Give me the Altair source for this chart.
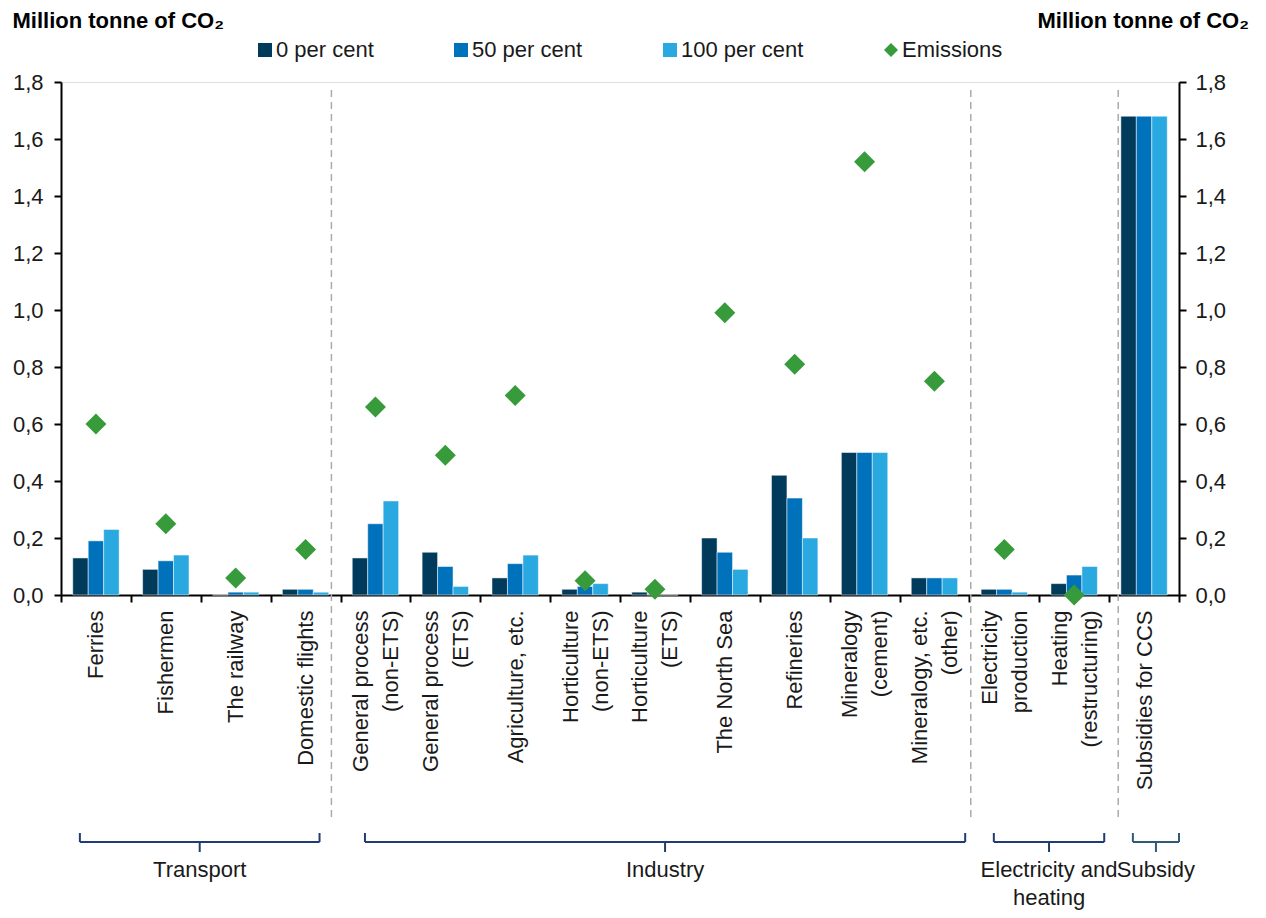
import altair as alt
import pandas as pd

# ---- data -------------------------------------------------------------
categories = [
    "Ferries", "Fishermen", "The railway", "Domestic flights",
    "General process|(non-ETS)", "General process|(ETS)", "Agriculture, etc.",
    "Horticulture|(non-ETS)", "Horticulture|(ETS)", "The North Sea", "Refineries",
    "Mineralogy|(cement)", "Mineralogy, etc.|(other)", "Electricity|production",
    "Heating|(restructuring)", "Subsidies for CCS",
]
share_0 = [0.13, 0.09, 0.00, 0.02, 0.13, 0.15, 0.06, 0.02, 0.01, 0.20, 0.42, 0.50, 0.06, 0.02, 0.04, 1.68]
share_50 = [0.19, 0.12, 0.01, 0.02, 0.25, 0.10, 0.11, 0.03, 0.00, 0.15, 0.34, 0.50, 0.06, 0.02, 0.07, 1.68]
share_100 = [0.23, 0.14, 0.01, 0.01, 0.33, 0.03, 0.14, 0.04, 0.00, 0.09, 0.20, 0.50, 0.06, 0.01, 0.10, 1.68]
emissions = [0.60, 0.25, 0.06, 0.16, 0.66, 0.49, 0.70, 0.05, 0.02, 0.99, 0.81, 1.52, 0.75, 0.16, 0.00, None]

bar_series = ["0 per cent", "50 per cent", "100 per cent"]
all_series = bar_series + ["Emissions"]
y_ticks = [0.0, 0.2, 0.4, 0.6, 0.8, 1.0, 1.2, 1.4, 1.6, 1.8]

# sector groups, in category-index units along the x axis
group_names = ["Transport", "Industry", "Electricity and\nheating", "Subsidy"]
group_start = [0.27, 4.35, 13.35, 15.34]
group_end = [3.70, 12.94, 14.93, 16.0]
divider_pos = [3.87, 13.02, 15.13]

# ---- styling ------------------------------------------------------------
FONT = "Liberation Sans"
FS = 22
W, H = 1118, 513
series_colors = ["#003B5C", "#0071BB", "#2AA9E0", "#379B3B"]
series_shapes = ["square", "square", "square", "diamond"]
TEXT = "#1a1a1a"
LINE_H = 30

rows = []
for cat, a, b, c in zip(categories, share_0, share_50, share_100):
    for s, v in zip(bar_series, (a, b, c)):
        rows.append({"category": cat, "series": s, "value": v})
bars_df = pd.DataFrame(rows)
em_df = pd.DataFrame({"category": categories, "series": "Emissions", "value": emissions}).dropna()

groups_df = pd.DataFrame({"group": group_names, "start": group_start, "end": group_end})
groups_df["mid"] = (groups_df["start"] + groups_df["end"]) / 2
div_df = pd.DataFrame({"pos": divider_pos})

legend = alt.Legend(
    orient="none", legendX=193, legendY=-43, direction="horizontal", title=None,
    labelFontSize=FS, labelFont=FONT, labelColor=TEXT, symbolSize=196,
    symbolStrokeWidth=0, columnPadding=76, labelOffset=0, padding=0,
)
color_enc = alt.Color("series:N", scale=alt.Scale(domain=all_series, range=series_colors), legend=legend)

# two-line labels are shifted half a line left so the block sits centred on its band
label_shift = {"condition": {"test": "indexof(datum.label, '|') >= 0", "value": -LINE_H / 2}, "value": 0}

x_enc = alt.X(
    "category:N", sort=categories, title=None,
    scale=alt.Scale(paddingInner=0, paddingOuter=0),
    axis=alt.Axis(
        labelAngle=270, labelExpr="split(datum.label, '|')", labelFontSize=FS,
        labelLineHeight=LINE_H, labelPadding=8, labelFont=FONT, labelColor=TEXT,
        labelLimit=400, labelOffset=label_shift, tickBand="extent", tickSize=7,
        tickWidth=2, tickColor="black", domainColor="black", domainWidth=2,
    ),
)

y_label = "replace(format(datum.value, '.1f'), '.', ',')"
y_title = "Million tonne of CO\u2082"
y_scale = alt.Scale(domain=[0, 1.8], nice=False)


def y_axis(orient, title_x, label_padding):
    return alt.Axis(
        orient=orient, values=y_ticks, labelExpr=y_label, labelFontSize=FS,
        labelFont=FONT, labelColor=TEXT, labelPadding=label_padding,
        tickSize=7, tickWidth=2, tickColor="black", domainColor="black",
        domainWidth=2, grid=False, title=y_title, titleAngle=0, titleX=title_x,
        titleY=-55, titleAlign="left", titleBaseline="alphabetic",
        titleFontWeight="bold", titleFontSize=FS, titleFont=FONT, titleColor="black",
    )


bars = alt.Chart(bars_df).mark_bar(stroke="white", strokeWidth=0.5).encode(
    x=x_enc,
    xOffset=alt.XOffset("series:N", sort=bar_series,
                        scale=alt.Scale(domain=bar_series, paddingInner=0, paddingOuter=0.76)),
    y=alt.Y("value:Q", scale=y_scale, axis=y_axis("left", -49, 11)),
    color=color_enc,
)

points = alt.Chart(em_df).mark_point(filled=True, size=440, opacity=1).encode(
    x=x_enc,
    y=alt.Y("value:Q", scale=y_scale, axis=None),
    color=color_enc,
    shape=alt.Shape("series:N", scale=alt.Scale(domain=all_series, range=series_shapes), legend=legend),
)

# carrier for the right-hand axis
right_axis = alt.Chart(em_df).mark_point(opacity=0).encode(
    x=x_enc,
    y=alt.Y("value:Q", scale=y_scale, axis=y_axis("right", -142, 9)),
)

main = alt.layer(bars, points, right_axis).resolve_scale(y="independent")

# ---- sector dividers and brackets ----------------------------------------
qscale = alt.Scale(domain=[0, 16], nice=False, zero=False)
bracket_color = alt.condition(alt.datum.group == "Subsidy", alt.value("#2E5B7A"), alt.value("#1F3C73"))

dividers = alt.Chart(div_df).mark_rule(strokeDash=[7, 5], strokeWidth=1.5, color="#ABABAB").encode(
    x=alt.X("pos:Q", scale=qscale, axis=None), y=alt.value(8), y2=alt.value(735)
)
brace_base = alt.Chart(groups_df).mark_rule(strokeWidth=2).encode(
    x=alt.X("start:Q", scale=qscale, axis=None), x2="end:Q", y=alt.value(760), color=bracket_color
)
brace_left = alt.Chart(groups_df).mark_rule(strokeWidth=2).encode(
    x=alt.X("start:Q", scale=qscale, axis=None), y=alt.value(751), y2=alt.value(760), color=bracket_color
)
brace_right = alt.Chart(groups_df).mark_rule(strokeWidth=2).encode(
    x=alt.X("end:Q", scale=qscale, axis=None), y=alt.value(751), y2=alt.value(760), color=bracket_color
)
brace_mid = alt.Chart(groups_df).mark_rule(strokeWidth=2).encode(
    x=alt.X("mid:Q", scale=qscale, axis=None), y=alt.value(760), y2=alt.value(770), color=bracket_color
)
group_text = alt.Chart(groups_df).mark_text(
    fontSize=FS, font=FONT, color=TEXT, baseline="top", lineBreak="\n", lineHeight=28
).encode(x=alt.X("mid:Q", scale=qscale, axis=None), y=alt.value(778), text="group:N")

annotations = alt.layer(dividers, brace_base, brace_left, brace_right, brace_mid, group_text)

chart = (
    alt.layer(main, annotations)
    .resolve_scale(x="independent")
    .properties(
        width=W, height=H,
        autosize=alt.AutoSizeParams(type="none"),
        padding={"left": 61, "top": 82, "right": 87, "bottom": 323},
        background="white",
    )
    .configure_view(stroke=None)
    .configure(font=FONT)
)

chart.save("out.html", embed_options={"renderer": "svg", "actions": False})
